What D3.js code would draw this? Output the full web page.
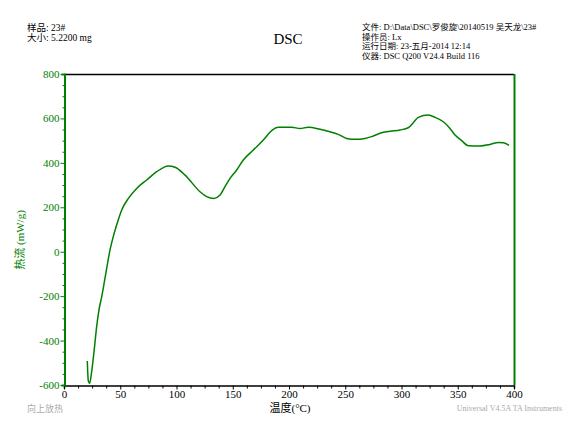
<!DOCTYPE html>
<html>
<head>
<meta charset="utf-8">
<script src="https://cdn.jsdelivr.net/npm/d3@7"></script>
<style>
html,body{margin:0;padding:0;background:#fff;}
svg{display:block;}
text{font-family:"Liberation Serif","Noto Sans CJK SC",serif;}
</style>
</head>
<body>
<svg id="chart" width="569" height="427"></svg>
<script>
// ---- data ----
const temperature = [20.7,21.6,22.8,24.6,27,29,31.1,33.5,35.9,38.2,40.9,43.8,46.8,51.3,57.2,64.6,73.5,82.4,92.7,98.7,107.6,120.9,126.8,133.3,138.7,143.1,147.6,153.5,159.4,168.3,177.2,184.6,190.5,202.4,209.8,217.2,227.6,236.4,243.8,251.3,258.7,267.6,273.5,280.9,289.8,298.7,306,310.5,314.9,323.8,329.8,337.2,343.1,347.6,353.5,359.4,369.8,378.7,386.1,390.6,395.6];
const heatFlow =    [-492,-581,-593,-540,-435,-338,-262,-203,-135,-67,8,68,120,188,240,285,323,360,386,380,345,270,248,240,255,293,330,368,413,458,503,545,560,560,555,560,551,540,528,510,506,510,518,533,542,548,558,581,605,615,605,585,555,525,500,477,476,483,492,491,479];
const xTicks = [0,50,100,150,200,250,300,350,400];
const yTicks = [-600,-400,-200,0,200,400,600,800];
const leftHeader = ["样品: 23#","大小: 5.2200 mg"];
const rightHeader = ["文件: D:\\Data\\DSC\\罗俊旋\\20140519 吴天龙\\23#","操作员: Lx","运行日期: 23-五月-2014 12:14","仪器: DSC Q200 V24.4 Build 116"];

const green = "#008000";
const svg = d3.select("#chart");
const x = d3.scaleLinear().domain([0,400]).range([64,514]);
const y = d3.scaleLinear().domain([-600,800]).range([385,74]);

// frame: top black, right green
svg.append("line").attr("x1",64).attr("x2",514).attr("y1",74.5).attr("y2",74.5).attr("stroke","#000").attr("stroke-width",1.5);
svg.append("line").attr("x1",514.5).attr("x2",514.5).attr("y1",74).attr("y2",385).attr("stroke",green).attr("stroke-width",2);

// x axis
const xAxis = d3.axisBottom(x).tickValues(d3.range(0,400.1,12.5)).tickSize(3).tickFormat(d => xTicks.includes(d) ? d : "");
const gx = svg.append("g").attr("transform","translate(0,385.5)").call(xAxis);
gx.select(".domain").attr("stroke","#000").attr("stroke-width",1.5);
gx.selectAll(".tick line").attr("stroke","#000").attr("y2", d => xTicks.includes(d) ? 4 : 3);
gx.selectAll(".tick text").attr("fill","#000").attr("font-size","11px").attr("dy","0.55em")
  .style("font-family",'"Liberation Serif",serif');

// y axis
const yAxis = d3.axisLeft(y).tickValues(d3.range(-600,800.1,50)).tickSize(3).tickFormat(d => yTicks.includes(d) ? d : "");
const gy = svg.append("g").attr("transform","translate(64.5,0)").call(yAxis);
gy.select(".domain").attr("stroke",green).attr("stroke-width",2);
gy.selectAll(".tick line").attr("stroke",green).attr("x2", d => yTicks.includes(d) ? -4 : -2);
gy.selectAll(".tick text").attr("fill",green).attr("font-size","11px").attr("x",-5)
  .style("font-family",'"Liberation Serif",serif');

// curve
svg.append("path")
  .datum(temperature.map((t,i)=>[t,heatFlow[i]]))
  .attr("fill","none").attr("stroke",green).attr("stroke-width",1.5)
  .attr("d", d3.line().x(d=>x(d[0])).y(d=>y(d[1])).curve(d3.curveMonotoneX));

// headers
svg.selectAll("text.lh").data(leftHeader).enter().append("text")
  .attr("x",27).attr("y",(d,i)=>31+i*10).attr("font-size","9.5px").attr("fill","#000").text(d=>d);
svg.selectAll("text.rh").data(rightHeader).enter().append("text")
  .attr("x",362).attr("y",(d,i)=>30+i*9.5).attr("font-size","8.5px").attr("fill","#000").text(d=>d);
svg.append("text").attr("x",288).attr("y",44).attr("text-anchor","middle").attr("font-size","15px").attr("fill","#000").text("DSC");

// axis labels
svg.append("text").attr("transform","translate(24,240) rotate(-90)").attr("text-anchor","middle")
  .attr("font-size","11px").attr("fill",green).text("热流 (mW/g)");
svg.append("text").attr("x",290).attr("y",412).attr("text-anchor","middle").attr("font-size","11px").attr("fill","#000").text("温度(°C)");
svg.append("text").attr("x",27).attr("y",412).attr("font-size","9px").attr("fill","#aaa").text("向上放热");
svg.append("text").attr("x",562).attr("y",411).attr("text-anchor","end").attr("font-size","8px").attr("fill","#aaa").text("Universal V4.5A TA Instruments");
</script>
</body>
</html>
